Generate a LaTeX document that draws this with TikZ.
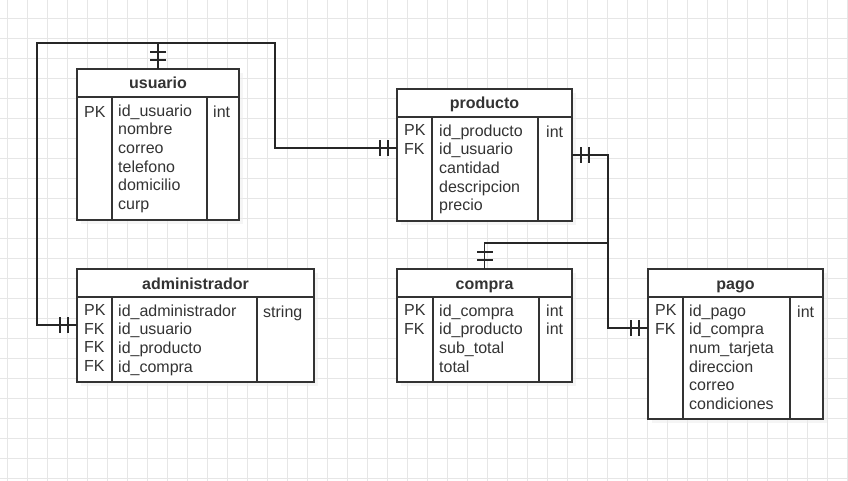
\documentclass[tikz,border=0pt]{standalone}
\usepackage{fontspec}
\setmainfont{Liberation Sans}
\usetikzlibrary{positioning,shadows,decorations.markings}

\definecolor{inkgray}{HTML}{333333}
\definecolor{gridgray}{HTML}{E6E6E6}

\tikzset{
  tablehead/.style = {draw = inkgray, fill = white, line width = 1.3pt, outer sep = 0pt, inner sep = 0pt, minimum height = 28pt, text height = 12pt, text depth = 0pt, text = inkgray, font = \fontsize{16}{18.6}\selectfont\bfseries, drop shadow = {shadow xshift = 4pt, shadow yshift = -4pt, fill = black!7}},
  tablebody/.style = {draw = inkgray, fill = white, line width = 1.3pt, outer sep = 0pt, inner sep = 0pt, drop shadow = {shadow xshift = 4pt, shadow yshift = -4pt, fill = black!7}},
  fields/.style = {anchor = north west, align = left, inner sep = 0pt, text = inkgray, font = \fontsize{16}{18.6}\selectfont, execute at begin node = \rule{0pt}{13pt}},
  divider/.style = {draw = inkgray, line width = 1.3pt},
  gridline/.style = {draw = gridgray, line width = 1pt},
  link/.style = {draw = black!85, line width = 1.2pt},
  onestart/.style = {postaction = {decorate, decoration = {markings,
      mark = at position 9pt with {\draw[link] (0,-8pt) -- (0,8pt);},
      mark = at position 17pt with {\draw[link] (0,-8pt) -- (0,8pt);}}}},
  oneend/.style = {postaction = {decorate, decoration = {markings,
      mark = at position -9pt with {\draw[link] (0,-8pt) -- (0,8pt);},
      mark = at position -17pt with {\draw[link] (0,-8pt) -- (0,8pt);}}}}
}

\begin{document}
\begin{tikzpicture}[x = 1pt, y = -1pt]
\useasboundingbox (0,0) rectangle (848,481);
\fill[white] (0,0) rectangle (848,481);
% grid of the canvas
\foreach \gx in {7.5,27.5,...,847.5} \draw[gridline] (\gx,0) -- (\gx,481);
\foreach \gy in {18.5,38.5,...,478.5} \draw[gridline] (0,\gy) -- (848,\gy);

% usuario
\node[tablehead, minimum width = 162pt, anchor = north west] (usuario) at (77,69) {usuario};
\node[tablebody, minimum width = 162pt, minimum height = 123pt, below right = 0pt and 0pt of usuario.south west] (usuario body) {};
\draw[divider] ([xshift = 35pt]usuario body.north west) -- ([xshift = 35pt]usuario body.south west);
\draw[divider] ([xshift = 130pt]usuario body.north west) -- ([xshift = 130pt]usuario body.south west);
\node[fields] (usuario keys) at ([xshift = 7pt, yshift = -7.5pt]usuario body.north west) {PK};
\node[fields] (usuario names) at ([xshift = 41pt, yshift = -7.5pt]usuario body.north west) {id\_usuario\\nombre\\correo\\telefono\\domicilio\\curp};
\node[fields] (usuario types) at ([xshift = 136pt, yshift = -7.5pt]usuario body.north west) {int};

% producto
\node[tablehead, minimum width = 175pt, anchor = north west] (producto) at (397,89) {producto};
\node[tablebody, minimum width = 175pt, minimum height = 104pt, below right = 0pt and 0pt of producto.south west] (producto body) {};
\draw[divider] ([xshift = 35pt]producto body.north west) -- ([xshift = 35pt]producto body.south west);
\draw[divider] ([xshift = 141pt]producto body.north west) -- ([xshift = 141pt]producto body.south west);
\node[fields] (producto keys) at ([xshift = 7pt, yshift = -7.5pt]producto body.north west) {PK\\FK};
\node[fields] (producto names) at ([xshift = 42pt, yshift = -7.5pt]producto body.north west) {id\_producto\\id\_usuario\\cantidad\\descripcion\\precio};
\node[fields] (producto types) at ([xshift = 149pt, yshift = -7.5pt]producto body.north west) {int};

% administrador
\node[tablehead, minimum width = 237pt, anchor = north west] (administrador) at (77,269) {administrador};
\node[tablebody, minimum width = 237pt, minimum height = 85pt, below right = 0pt and 0pt of administrador.south west] (administrador body) {};
\draw[divider] ([xshift = 35pt]administrador body.north west) -- ([xshift = 35pt]administrador body.south west);
\draw[divider] ([xshift = 180pt]administrador body.north west) -- ([xshift = 180pt]administrador body.south west);
\node[fields] (administrador keys) at ([xshift = 7pt, yshift = -7.5pt]administrador body.north west) {PK\\FK\\FK\\FK};
\node[fields] (administrador names) at ([xshift = 41pt, yshift = -7.5pt]administrador body.north west) {id\_administrador\\id\_usuario\\id\_producto\\id\_compra};
\node[fields] (administrador types) at ([xshift = 186pt, yshift = -7.5pt]administrador body.north west) {string};

% compra
\node[tablehead, minimum width = 175pt, anchor = north west] (compra) at (397,269) {compra};
\node[tablebody, minimum width = 175pt, minimum height = 85pt, below right = 0pt and 0pt of compra.south west] (compra body) {};
\draw[divider] ([xshift = 36pt]compra body.north west) -- ([xshift = 36pt]compra body.south west);
\draw[divider] ([xshift = 142pt]compra body.north west) -- ([xshift = 142pt]compra body.south west);
\node[fields] (compra keys) at ([xshift = 7pt, yshift = -7.5pt]compra body.north west) {PK\\FK};
\node[fields] (compra names) at ([xshift = 42pt, yshift = -7.5pt]compra body.north west) {id\_compra\\id\_producto\\sub\_total\\total};
\node[fields] (compra types) at ([xshift = 149pt, yshift = -7.5pt]compra body.north west) {int\\int};

% pago
\node[tablehead, minimum width = 175pt, anchor = north west] (pago) at (648,269) {pago};
\node[tablebody, minimum width = 175pt, minimum height = 122pt, below right = 0pt and 0pt of pago.south west] (pago body) {};
\draw[divider] ([xshift = 35pt]pago body.north west) -- ([xshift = 35pt]pago body.south west);
\draw[divider] ([xshift = 142pt]pago body.north west) -- ([xshift = 142pt]pago body.south west);
\node[fields] (pago keys) at ([xshift = 7pt, yshift = -7.5pt]pago body.north west) {PK\\FK};
\node[fields] (pago names) at ([xshift = 41pt, yshift = -7.5pt]pago body.north west) {id\_pago\\id\_compra\\num\_tarjeta\\direccion\\correo\\condiciones};
\node[fields] (pago types) at ([xshift = 149pt, yshift = -7.5pt]pago body.north west) {int};

% relations
\coordinate (corner nw) at (37,43);
\coordinate (corner ne) at (275,43);
\coordinate (join) at (608,243);
\draw[link, onestart, oneend] (usuario.north) |- (corner nw) |- ([yshift = -28pt]administrador body.north west);
\draw[link, onestart, oneend] (usuario.north) |- (corner ne) |- ([yshift = -31pt]producto body.north west);
\draw[link, onestart, oneend] ([yshift = -38pt]producto body.north east) -| (join) |- ([yshift = -31pt]pago body.north west);
\draw[link, onestart] (compra.north) |- (join);
\end{tikzpicture}
\end{document}
